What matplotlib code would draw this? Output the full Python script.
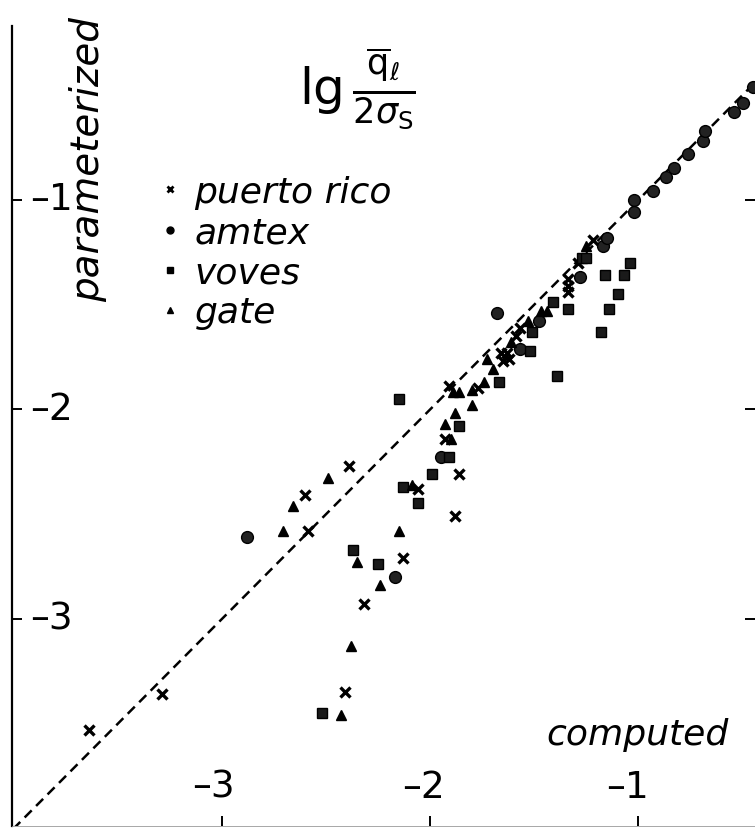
import matplotlib
matplotlib.use("Agg")
import matplotlib.pyplot as plt
from matplotlib.lines import Line2D

plt.rcParams['font.family'] = ['DejaVu Sans']
plt.rcParams['mathtext.fontset'] = 'dejavusans'

# data (lg of computed vs parameterized)
pr_x = [-3.64, -3.29, -2.59, -2.60, -2.39, -2.32, -2.41, -2.13, -1.88, -1.86, -2.06, -1.93,
        -1.91, -1.77, -1.66, -1.63, -1.62, -1.65, -1.59, -1.57, -1.34, -1.34, -1.34, -1.29, -1.22]
pr_y = [-3.53, -3.36, -2.58, -2.41, -2.27, -2.93, -3.35, -2.71, -2.51, -2.31, -2.38, -2.14,
        -1.89, -1.90, -1.73, -1.73, -1.76, -1.77, -1.65, -1.61, -1.41, -1.44, -1.38, -1.30, -1.19]

amtex_x = [-2.88, -2.17, -1.95, -1.68, -1.48, -1.57, -1.28, -1.17, -1.15, -1.02, -1.02,
           -0.93, -0.87, -0.83, -0.76, -0.69, -0.68, -0.54, -0.50, -0.45]
amtex_y = [-2.61, -2.80, -2.23, -1.54, -1.58, -1.71, -1.37, -1.22, -1.18, -1.00, -1.06,
           -0.96, -0.89, -0.85, -0.78, -0.72, -0.67, -0.58, -0.54, -0.46]

voves_x = [-2.52, -2.37, -2.25, -2.13, -2.06, -1.99, -1.91, -1.86, -2.15, -1.67, -1.52, -1.51,
           -1.41, -1.39, -1.34, -1.18, -1.14, -1.10, -1.16, -1.07, -1.04, -1.27, -1.25]
voves_y = [-3.45, -2.67, -2.74, -2.37, -2.45, -2.31, -2.23, -2.08, -1.95, -1.87, -1.72, -1.63,
           -1.49, -1.84, -1.52, -1.63, -1.52, -1.45, -1.36, -1.36, -1.30, -1.28, -1.28]

gate_x = [-2.43, -2.38, -2.24, -2.35, -2.15, -2.09, -2.71, -2.66, -2.49, -1.93, -1.88, -1.80,
          -1.89, -1.86, -1.80, -1.74, -1.70, -1.73, -1.61, -1.53, -1.47, -1.44, -1.25, -1.90]
gate_y = [-3.46, -3.13, -2.84, -2.73, -2.58, -2.36, -2.58, -2.46, -2.33, -2.07, -2.02, -1.98,
          -1.92, -1.92, -1.91, -1.87, -1.81, -1.76, -1.68, -1.58, -1.53, -1.53, -1.22, -2.14]

xticks = [-3, -2, -1]
yticks = [-1, -2, -3]
line_ends = [-4.1, 0.0]

W, H = 755, 829
fig = plt.figure(figsize=(W / 100, H / 100), dpi=100)
ax = fig.add_axes([12 / W, 2 / H, 743 / W, 800 / H])
ax.set_xlim(-4.01, -0.44)
ax.set_ylim(-3.99, -0.17)

ax.plot(line_ends, line_ends, color='black', lw=1.8, ls=(0, (4, 2.5)))

ax.plot(pr_x, pr_y, 'x', color='black', ms=7, mew=2.4, clip_on=False)
ax.plot(amtex_x, amtex_y, 'o', color='black', ms=8.5, mec='black', mfc='#222222')
ax.plot(voves_x, voves_y, 's', color='black', ms=7.5, mfc='#1a1a1a')
ax.plot(gate_x, gate_y, '^', color='black', ms=7.5)

for s in ['top', 'right']:
    ax.spines[s].set_visible(False)
ax.spines['left'].set_linewidth(1.6)
ax.spines['bottom'].set_linewidth(0.6)
ax.spines['bottom'].set_color('#999999')

ax.set_xticks(xticks)
ax.set_yticks(yticks)
ax.tick_params(axis='both', direction='in', length=7, width=1.4, labelbottom=False,
               labelleft=False, right=True, color='black')

def fx(px):
    return px / W

def fy(py):
    return 1 - py / H

# tick labels sit inside the frame in the original
for v, px in zip(xticks, [213, 423, 627]):
    fig.text(fx(px), fy(788), '\u2013' + str(abs(v)), fontsize=27, ha='center', va='center')
for v, py in zip(yticks, [200, 410, 620]):
    fig.text(fx(30), fy(py), '\u2013' + str(abs(v)), fontsize=27, ha='left', va='center')

fig.text(fx(88), fy(160), 'parameterized', rotation=90, fontsize=28, style='italic',
         ha='center', va='center')
fig.text(fx(637), fy(735), 'computed', fontsize=26, style='italic', ha='center', va='center')
fig.text(fx(357), fy(88), r'$\mathrm{lg}\,\frac{\overline{\mathrm{q}}_{\ell}}{2\sigma_{\mathrm{S}}}$',
         fontsize=36, ha='center', va='center')

handles = [Line2D([], [], marker='x', ls='', color='black', ms=5, mew=2),
           Line2D([], [], marker='o', ls='', color='black', ms=5),
           Line2D([], [], marker='s', ls='', color='black', ms=5),
           Line2D([], [], marker='^', ls='', color='black', ms=4)]
labels = ['puerto rico', 'amtex', 'voves', 'gate']
leg = fig.legend(handles, labels, loc='upper left', bbox_to_anchor=(fx(162), fy(176)),
                 frameon=False, borderpad=0, borderaxespad=0, handlelength=0.45,
                 handletextpad=0.45, labelspacing=0.17,
                 prop={'size': 26, 'style': 'italic'})

fig.savefig('out.png', dpi=100)
